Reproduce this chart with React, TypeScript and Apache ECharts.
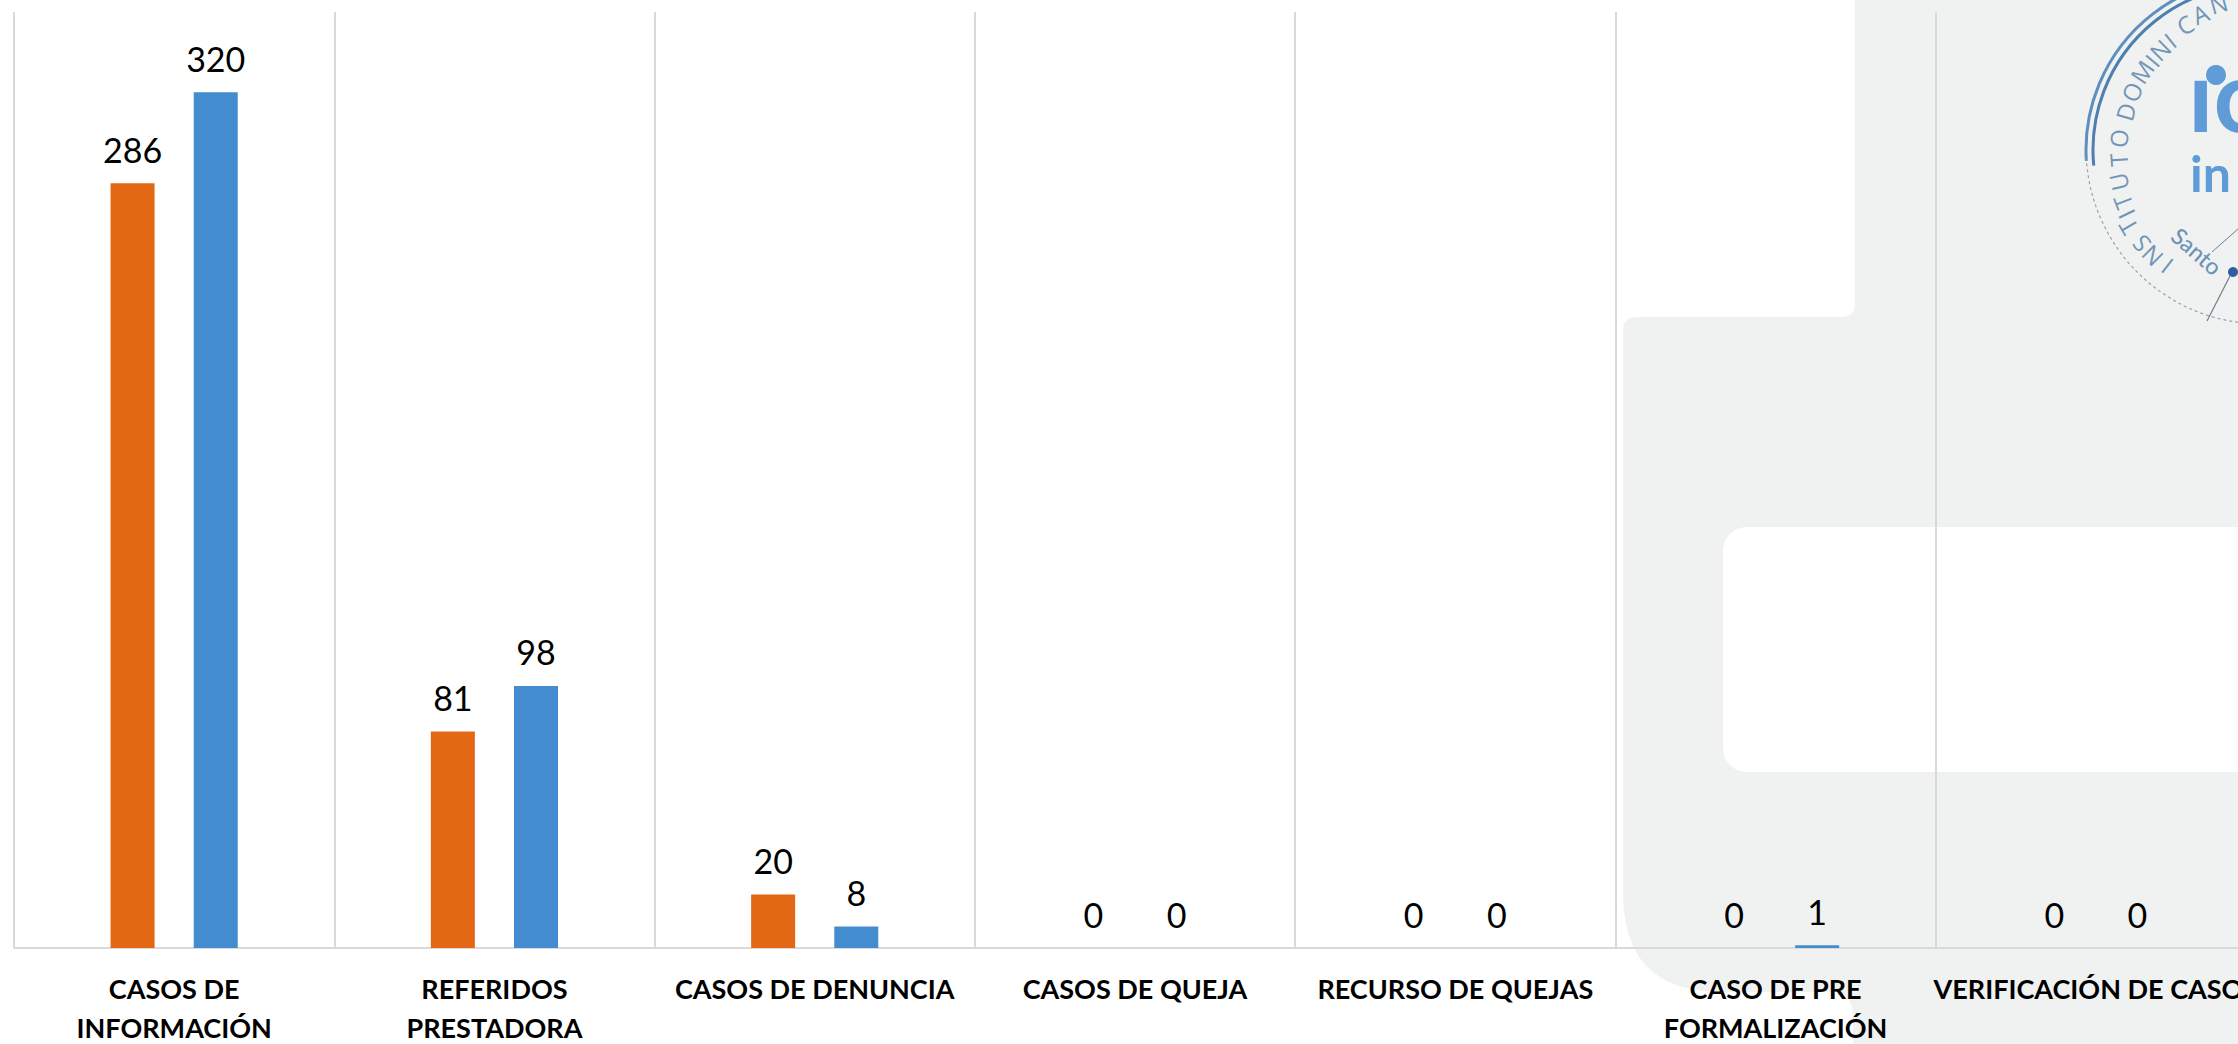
import React, { useEffect, useRef } from "react";
import * as echarts from "echarts";

const categories = [
  "CASOS DE\nINFORMACIÓN",
  "REFERIDOS\nPRESTADORA",
  "CASOS DE DENUNCIA",
  "CASOS DE QUEJA",
  "RECURSO DE QUEJAS",
  "CASO DE PRE\nFORMALIZACIÓN",
  "VERIFICACIÓN DE CASOS",
];
const orangeValues = [286, 81, 20, 0, 0, 0, 0];
const blueValues = [320, 98, 8, 0, 0, 1, 0];

const sealLettersText = ["I", "N", "S", "T", "I", "T", "U", "T", "O", "D", "O", "M", "I", "N", "I", "C", "A", "N"];
const sealLetterAngles = [-52, -45, -38.7, -30.6, -26, -21, -12.9, -4, 4.8, 16.1, 24.8, 34, 40.2, 45.6, 51.3, 59.7, 67, 74.9];
const sealLetterRadii = [148, 150, 150, 151, 147, 145, 143, 140, 140, 138, 139, 140, 139, 140, 141, 145, 148, 152];

const PANEL_PATH =
  "M1855 0 V303 Q1855 317 1841 317 H1637 Q1623 317 1623 331 V890 C1623 960 1655 992 1725 992 H1835 Q1853 994 1853 1018 V1044 H2300 V0 Z";
const SEAL_LINE_A = "M2207 321 L2232 272";
const SEAL_LINE_B = "M2212 252 L2238 229";

echarts.graphic.registerShape("greyPanel", echarts.graphic.extendPath(PANEL_PATH, {}) as any);
echarts.graphic.registerShape("sealLineA", echarts.graphic.extendPath(SEAL_LINE_A, {}) as any);
echarts.graphic.registerShape("sealLineB", echarts.graphic.extendPath(SEAL_LINE_B, {}) as any);

const SEAL_X = 2258;
const SEAL_Y = 150;
const SEAL_BLUE = "#5f9bd6";
const LABEL_FONT = "Lato";

function sealLetters() {
  return sealLettersText.map((ch, i) => {
    const a = (sealLetterAngles[i] * Math.PI) / 180;
    const r = sealLetterRadii[i];
    return {
      type: "text",
      x: SEAL_X - r * Math.cos(a),
      y: SEAL_Y - r * Math.sin(a),
      rotation: Math.PI / 2 - a,
      z: -5,
      style: {
        text: ch,
        fill: "#7396b8",
        font: "400 24px 'Open Sans'",
        textAlign: "center",
        textVerticalAlign: "middle",
      },
    };
  });
}

function buildGraphics() {
  return [
    { type: "greyPanel", z: -10, style: { fill: "#f0f2f1" } },
    { type: "rect", z: -9, shape: { x: 1723, y: 527, width: 700, height: 245, r: 24 }, style: { fill: "#ffffff" } },
    { type: "arc", z: -5, shape: { cx: SEAL_X, cy: SEAL_Y, r: 172, startAngle: Math.PI * 0.98, endAngle: Math.PI * 1.6 }, style: { stroke: "#5f8fbf", lineWidth: 3, fill: "none" } },
    { type: "arc", z: -5, shape: { cx: SEAL_X, cy: SEAL_Y, r: 165, startAngle: Math.PI * 0.97, endAngle: Math.PI * 1.6 }, style: { stroke: "#4f7fae", lineWidth: 3, fill: "none" } },
    { type: "arc", z: -5, shape: { cx: SEAL_X + 4, cy: SEAL_Y - 2, r: 176, startAngle: Math.PI * 0.5, endAngle: Math.PI * 0.98 }, style: { stroke: "#9a9fb0", lineWidth: 1.2, lineDash: [3, 3], fill: "none" } },
    ...sealLetters(),
    { type: "circle", z: -4, shape: { cx: 2216, cy: 75, r: 10 }, style: { fill: SEAL_BLUE } },
    { type: "text", z: -4, x: 2188, y: 143, style: { text: "ıc", fill: SEAL_BLUE, font: "700 100px Lato", textAlign: "left", textVerticalAlign: "bottom" } },
    { type: "text", z: -4, x: 2190, y: 198, style: { text: "in", fill: SEAL_BLUE, font: "700 50px Lato", textAlign: "left", textVerticalAlign: "bottom" } },
    { type: "text", z: -4, x: 2197, y: 251, rotation: -0.72, style: { text: "Santo", fill: "#6f93b8", font: "500 23px Lato", textAlign: "center", textVerticalAlign: "middle" } },
    { type: "sealLineA", z: -4, style: { stroke: "#777c86", lineWidth: 1.2, fill: "none" } },
    { type: "sealLineB", z: -4, style: { stroke: "#777c86", lineWidth: 1, fill: "none" } },
    { type: "circle", z: -4, shape: { cx: 2233, cy: 272, r: 5 }, style: { fill: "#2f5f9f" } },
  ];
}

export default function App() {
  const ref = useRef<HTMLDivElement>(null);
  useEffect(() => {
    if (!ref.current) return;
    const chart = echarts.init(ref.current, undefined, { renderer: "svg" });
    const dataLabel = {
      show: true,
      position: "top",
      distance: 17,
      color: "#000000",
      fontFamily: LABEL_FONT,
      fontSize: 34,
    };
    chart.setOption({
      animation: false,
      backgroundColor: "#ffffff",
      graphic: { elements: buildGraphics() },
      grid: { left: 14, top: 12, width: 2242, height: 936, outerBoundsMode: "none" },
      xAxis: {
        type: "category",
        data: categories,
        axisTick: { show: false },
        axisLine: { lineStyle: { color: "#d9d9d9", width: 2 } },
        splitLine: { show: true, lineStyle: { color: "#d9d9d9", width: 2 } },
        axisLabel: {
          interval: 0,
          color: "#000000",
          fontFamily: LABEL_FONT,
          fontWeight: 700,
          fontSize: 27,
          lineHeight: 39,
          margin: 21,
        },
      },
      yAxis: { type: "value", min: 0, max: 350, show: false, splitLine: { show: false } },
      series: [
        { type: "bar", data: orangeValues, barWidth: 44, barGap: "89%", itemStyle: { color: "#e36813" }, label: dataLabel },
        { type: "bar", data: blueValues, barWidth: 44, itemStyle: { color: "#438ccf" }, label: dataLabel },
      ],
    });
    return () => chart.dispose();
  }, []);
  return (
    <div style={{ position: "fixed", left: 0, top: 0, width: 2238, height: 1044, overflow: "hidden", background: "#fff" }}>
      <div ref={ref} style={{ width: 2300, height: 1044 }} />
    </div>
  );
}
